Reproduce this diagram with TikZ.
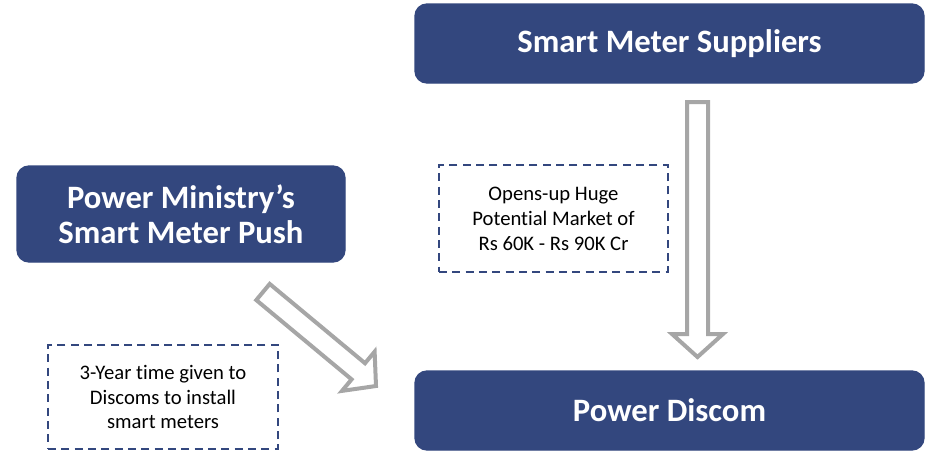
\documentclass[tikz,border=0pt]{standalone}
\usepackage{fontspec}
\setmainfont{Carlito}[Ligatures={NoCommon}]
\usetikzlibrary{calc}

\definecolor{navy}{RGB}{51,71,126}
\definecolor{arrowgray}{RGB}{166,166,166}

\tikzset{
  bluebox/.style={draw=navy, fill=navy, line width=1pt, rounded corners=9pt,
    text=white, align=center, font=\fontsize{24.5}{26}\selectfont\bfseries,
    inner sep=0pt},
  notebox/.style={draw=navy, line width=1.5pt, dash pattern=on 6pt off 4pt,
    fill=white, text=black, align=center, font=\fontsize{15.5}{18.7}\selectfont,
    inner sep=0pt},
  blockarrow/.style={draw=arrowgray, line width=3pt, fill=white, line join=miter},
}

% hollow block arrow from tail #1 to tip #2
\newcommand\blockarrow[2]{%
  \coordinate (hb) at ($(#2)!17.25pt!(#1)$);
  \draw[blockarrow] ($(#1)!7.875pt!90:(#2)$) -- ($(hb)!7.875pt!90:(#2)$)
    -- ($(hb)!19.125pt!90:(#2)$) -- (#2) -- ($(hb)!19.125pt!-90:(#2)$)
    -- ($(hb)!7.875pt!-90:(#2)$) -- ($(#1)!7.875pt!-90:(#2)$) -- cycle;
}

\begin{document}
\begin{tikzpicture}[x=0.75pt, y=-0.75pt]
  \useasboundingbox (0,0) rectangle (925,451);

  % main blocks
  \node[bluebox, minimum width=381.75pt, minimum height=59.25pt] (sup) at (669.5,43.5) {Smart Meter Suppliers};
  \node[bluebox, minimum width=246pt, minimum height=72pt] (min) at (181,214) {Power Ministry’s\\Smart Meter Push};
  \node[bluebox, minimum width=381.75pt, minimum height=59.25pt] (dis) at (669.5,410.5) {Power Discom};

  % arrows
  \coordinate (vtail) at (697.5,102);
  \coordinate (vtip) at (697.5,357);
  \coordinate (dtail) at (263,292);
  \coordinate (dtip) at (376,386);
  \blockarrow{vtail}{vtip}
  \blockarrow{dtail}{dtip}

  % notes
  \node[notebox, minimum width=171.75pt, minimum height=80.25pt] (mkt) at (553.5,218.5) {Opens-up Huge\\Potential Market of\\Rs 60K - Rs 90K Cr};
  \node[notebox, minimum width=172.5pt, minimum height=78pt] (time) at (163,397) {3-Year time given to\\Discoms to install\\smart meters};
\end{tikzpicture}
\end{document}
